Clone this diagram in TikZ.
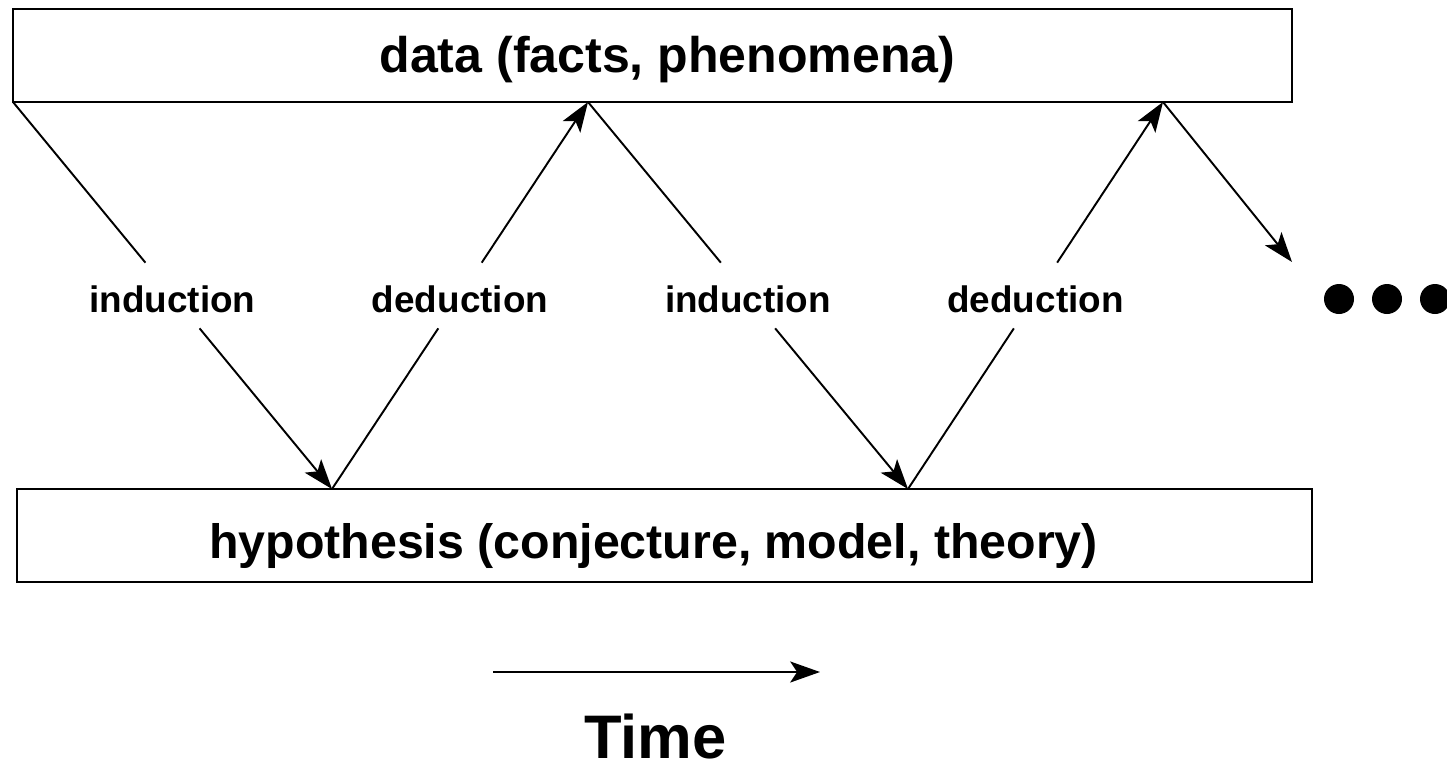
\documentclass[tikz,border=0pt]{standalone}
\usepackage{fontspec}
\setmainfont{Liberation Sans}
\usetikzlibrary{arrows.meta,calc}
\tikzset{
  box/.style={draw, line width=1.2pt, rectangle, inner sep=0pt, minimum height=1.86cm},
  lbl/.style={inner xsep=2pt, inner ysep=0pt, minimum height=1.3cm,
    text height=0.74cm, text depth=0.05cm,
    font=\fontsize{21}{25}\selectfont\bfseries},
  conn/.style={line width=1.1pt},
  arr/.style={conn, -{Stealth[length=17pt, width=12pt, inset=4pt]}},
}
\begin{document}
\begin{tikzpicture}[x=0.02cm,y=-0.02cm]
\useasboundingbox (0,0) rectangle (1447,768);
\node[box, minimum width=25.58cm, text height=0.78cm, text depth=0.1cm,
  font=\fontsize{28.5}{34}\selectfont\bfseries] (data) at (652.5,55.5)
  {\kern0.6cm data (facts, phenomena)};
\node[box, minimum width=25.9cm, text height=0.95cm, text depth=0.05cm,
  font=\fontsize{27.5}{33}\selectfont\bfseries] (hyp) at (664.5,535.5)
  {hypothesis (conjecture, model, theory)\kern0.44cm};
\coordinate (d0) at (13,102);
\coordinate (d1) at (588,102);
\coordinate (d2) at (1163,102);
\coordinate (h1) at (332,489);
\coordinate (h2) at (908,489);
\coordinate (e) at (1292,262);
\node[lbl] (i1) at ($(d0)!0.5!(h1)$) {induction};
\node[lbl] (e1) at ($(h1)!0.5!(d1)$) {deduction};
\node[lbl] (i2) at ($(d1)!0.5!(h2)$) {induction};
\node[lbl] (e2) at ($(h2)!0.5!(d2)$) {deduction};
\draw[conn] (d0) -- (i1);
\draw[arr] (i1) -- (h1);
\draw[conn] (h1) -- (e1);
\draw[arr] (e1) -- (d1);
\draw[conn] (d1) -- (i2);
\draw[arr] (i2) -- (h2);
\draw[conn] (h2) -- (e2);
\draw[arr] (e2) -- (d2);
\draw[arr] (d2) -- (e);
\fill (1339,299) circle[radius=0.3cm];
\fill (1387,299) circle[radius=0.3cm];
\fill (1435,299) circle[radius=0.3cm];
\coordinate (t0) at (493,672);
\coordinate (t1) at (820,672);
\draw[arr] (t0) -- (t1);
\node[inner sep=0pt, font=\fontsize{35}{42}\selectfont\bfseries] (time) at (655.5,737) {Time};
\end{tikzpicture}
\end{document}
